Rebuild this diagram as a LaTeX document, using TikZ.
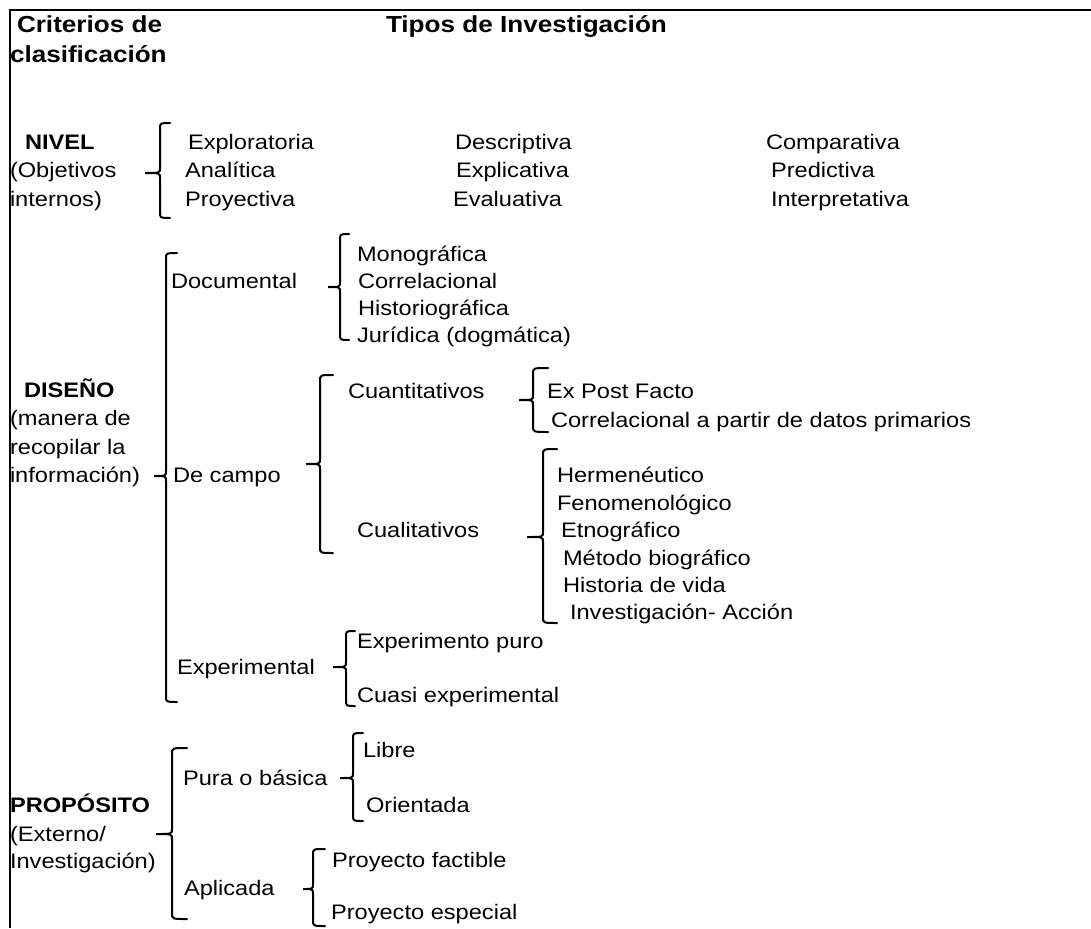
\documentclass[tikz,border=0pt]{standalone}
\usepackage{fontspec}
\setmainfont{Liberation Sans}[FakeStretch=1.125]
\newcommand\mybrace[6]{%
  \draw[brk] ({#1+#5},#2) .. controls (#1,#2) .. (#1,{#2+6}) -- (#1,{#3-5})
    .. controls (#1,#3) .. ({#1-#6},#3) .. controls (#1,#3) .. (#1,{#3+5})
    -- (#1,{#4-6}) .. controls (#1,#4) .. ({#1+#5},#4);}
\begin{document}
\begin{tikzpicture}[x=1pt,y=-1pt,
  txt/.style={anchor=base west, inner sep=0pt, outer sep=0pt, font=\fontsize{21}{25}\selectfont},
  bld/.style={txt, font=\fontsize{21}{25}\selectfont\bfseries},
  hd/.style={txt, font=\fontsize{23.2}{27}\selectfont\bfseries},
  brk/.style={line width=2pt, line cap=round},
  frame/.style={line width=2pt}]
\useasboundingbox (0,0) rectangle (1091,928);
\fill[white] (0,0) rectangle (1091,928);
\draw[frame] (1091,10) -- (9.5,10) -- (9.5,928);

% header
\node[hd] (h1) at (17,33) {Criterios de};
\node[hd] (h2) at (10,63) {clasificación};
\node[hd] (h3) at (386,33) {Tipos de Investigación};

% NIVEL
\node[bld] (nivel) at (25,150) {NIVEL};
\node[txt] (nivel2) at (10,178) {(Objetivos};
\node[txt] (nivel3) at (10,206) {internos)};
\mybrace{160}{123}{173}{218}{10}{15}
\node[txt] (n11) at (188,150) {Exploratoria};
\node[txt] (n12) at (185,178) {Analítica};
\node[txt] (n13) at (185,206) {Proyectiva};
\node[txt] (n21) at (455,150) {Descriptiva};
\node[txt] (n22) at (456,178) {Explicativa};
\node[txt] (n23) at (453,206) {Evaluativa};
\node[txt] (n31) at (766,150) {Comparativa};
\node[txt] (n32) at (771,178) {Predictiva};
\node[txt] (n33) at (771,206) {Interpretativa};

% DISEÑO
\node[bld] (dis) at (24,397) {DISEÑO};
\node[txt] (dis2) at (10,425) {(manera de};
\node[txt] (dis3) at (10,454) {recopilar la};
\node[txt] (dis4) at (10,482) {información)};
\mybrace{166}{253}{476}{702}{11}{12}

\node[txt] (doc) at (171,288) {Documental};
\mybrace{340}{234}{287}{340}{9}{12}
\node[txt] (d1) at (357,261) {Monográfica};
\node[txt] (d2) at (358,288) {Correlacional};
\node[txt] (d3) at (358,315) {Historiográfica};
\node[txt] (d4) at (357,342) {Jurídica (dogmática)};

\node[txt] (camp) at (173,482) {De campo};
\mybrace{320}{375}{464}{553}{13}{14}
\node[txt] (cuan) at (348,398) {Cuantitativos};
\mybrace{533}{368}{400}{432}{15}{14}
\node[txt] (q1) at (547,398) {Ex Post Facto};
\node[txt] (q2) at (551,427) {Correlacional a partir de datos primarios};
\node[txt] (cual) at (357,537) {Cualitativos};
\mybrace{543}{449}{537}{623}{14}{16}
\node[txt] (c1) at (557,482) {Hermenéutico};
\node[txt] (c2) at (557,510) {Fenomenológico};
\node[txt] (c3) at (561,537) {Etnográfico};
\node[txt] (c4) at (563,565) {Método biográfico};
\node[txt] (c5) at (563,592) {Historia de vida};
\node[txt] (c6) at (570,619) {Investigación- Acción};

\node[txt] (exp) at (177,674) {Experimental};
\mybrace{346}{631}{667}{706}{9}{13}
\node[txt] (e1) at (357,648) {Experimento puro};
\node[txt] (e2) at (357,702) {Cuasi experimental};

% PROPÓSITO
\node[bld] (pro) at (10,812) {PROPÓSITO};
\node[txt] (pro2) at (10,841) {(Externo/};
\node[txt] (pro3) at (10,868) {Investigación)};
\mybrace{172}{748}{834}{919}{15}{16}

\node[txt] (pura) at (183,785) {Pura o básica};
\mybrace{353}{733}{778}{821}{10}{13}
\node[txt] (p1) at (363,757) {Libre};
\node[txt] (p2) at (366,812) {Orientada};

\node[txt] (apl) at (184,895) {Aplicada};
\mybrace{313}{849}{889}{926}{12}{10}
\node[txt] (a1) at (332,867) {Proyecto factible};
\node[txt] (a2) at (331,919) {Proyecto especial};
\end{tikzpicture}
\end{document}
